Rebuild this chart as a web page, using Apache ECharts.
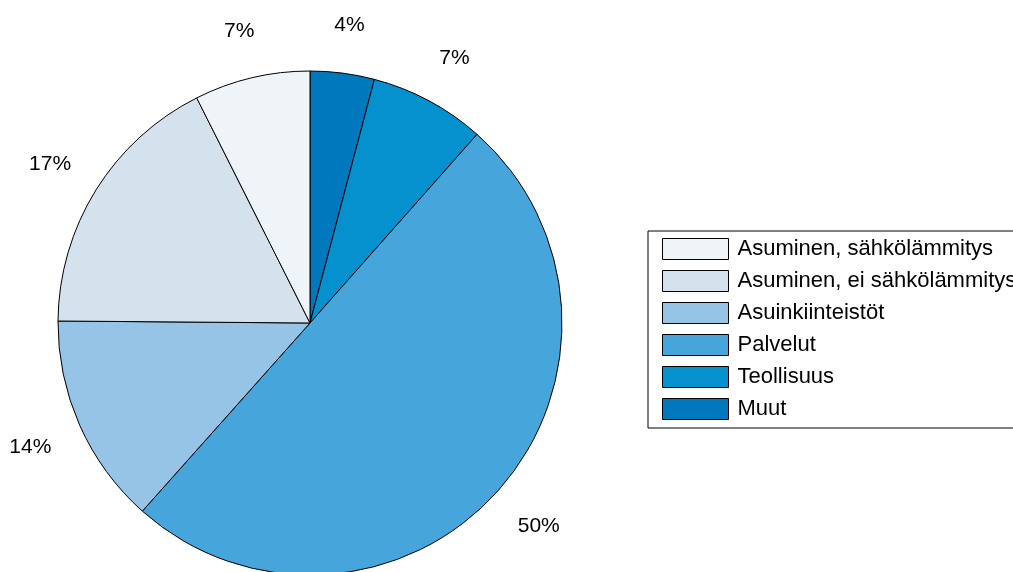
<!DOCTYPE html>
<html>
<head>
<meta charset="utf-8">
<script src="https://cdn.jsdelivr.net/npm/echarts@6/dist/echarts.min.js"></script>
<style>
  html, body { margin: 0; padding: 0; background: #fff; }
  #chart { width: 1013px; height: 572px; }
</style>
</head>
<body>
<div id="chart"></div>
<script>
// Shares by sector, clockwise from 12 o'clock
const categories = ['Muut', 'Teollisuus', 'Palvelut', 'Asuinkiinteistöt', 'Asuminen, ei sähkölämmitys', 'Asuminen, sähkölämmitys'];
const shares = [4.1, 7.4, 49.9, 13.5, 17.4, 7.4];
const colors = ['#0078be', '#0590ce', '#46a6db', '#95c4e6', '#d4e2ee', '#eff4f9'];
// Legend lists the sectors in reverse order
const legendOrder = categories.slice().reverse();

const center = [310, 323];
const font = 'Liberation Sans, Arial, sans-serif';

// Percentage labels near the top of the pie sit a little lower
function labelOffset(i) {
  const total = shares.reduce((a, b) => a + b, 0);
  let before = 0;
  for (let k = 0; k < i; k++) before += shares[k];
  const mid = (before + shares[i] / 2) / total * 2 * Math.PI;
  return [0, Math.max(0, Math.cos(mid)) * 6];
}

const chart = echarts.init(document.getElementById('chart'), null, { renderer: 'canvas' });
chart.setOption({
  animation: false,
  legend: {
    data: legendOrder,
    orient: 'vertical',
    left: 648,
    top: 231,
    padding: [7, 14, 8, 14],
    itemWidth: 66,
    itemHeight: 21,
    itemGap: 10,
    icon: 'rect',
    borderColor: '#000',
    borderWidth: 1,
    itemStyle: { borderColor: '#000', borderWidth: 1 },
    textStyle: { fontFamily: font, fontSize: 22, lineHeight: 21, color: '#000', padding: [0, 0, 0, 4] },
    selectedMode: false
  },
  series: [
    {
      type: 'pie',
      center: center,
      radius: 252,
      startAngle: 90,
      clockwise: true,
      silent: true,
      label: { show: false },
      labelLine: { show: false },
      itemStyle: { borderColor: '#000', borderWidth: 1 },
      data: categories.map((c, i) => ({ name: c, value: shares[i], itemStyle: { color: colors[i] } }))
    },
    {
      // Transparent ring carrying the percentage labels outside the pie
      type: 'pie',
      center: center,
      radius: [290, 316],
      startAngle: 90,
      clockwise: true,
      silent: true,
      itemStyle: { color: 'rgba(0,0,0,0)', borderWidth: 0 },
      label: {
        show: true,
        position: 'inside',
        formatter: p => Math.round(p.value) + '%',
        fontFamily: font,
        fontSize: 21,
        color: '#000'
      },
      labelLine: { show: false },
      data: categories.map((c, i) => ({ name: 'pct' + i, value: shares[i], label: { offset: labelOffset(i) } }))
    }
  ]
});
</script>
</body>
</html>
